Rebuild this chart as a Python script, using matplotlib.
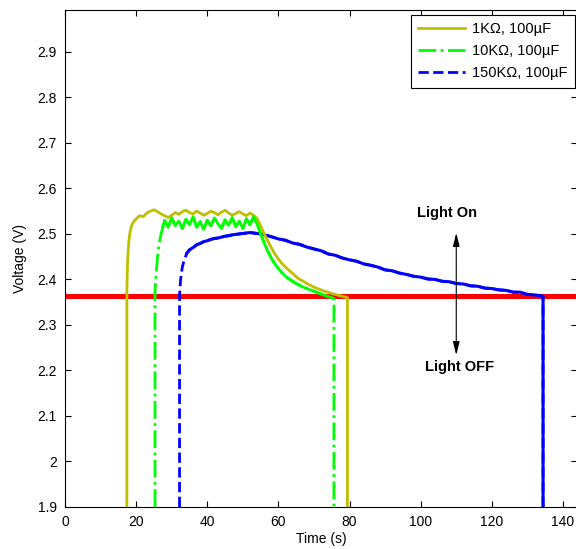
import matplotlib.pyplot as plt

plt.rcParams['font.family'] = ['Liberation Sans', 'DejaVu Sans']

# 1 kOhm, 100 uF
t_1k = [17.4, 17.4, 17.6, 17.9, 18.3, 18.8, 19.4,
        20, 21, 22, 23, 24, 25, 26, 27, 28, 29, 30, 31, 32, 33, 34, 35, 36, 37, 38, 39,
        40, 41, 42, 43, 44, 45, 46, 47, 48, 49, 50, 51, 52, 53, 54, 55, 56, 57, 58, 59,
        60, 61, 62, 63, 64, 65, 66, 67, 68, 69, 70, 71, 72, 73, 74, 75, 76, 77, 78, 79,
        79.4, 79.4]
v_1k = [1.90, 2.38, 2.44, 2.48, 2.505, 2.52, 2.528,
        2.533, 2.540, 2.538, 2.546, 2.550, 2.553, 2.549, 2.544, 2.540, 2.536,
        2.541, 2.547, 2.543, 2.549, 2.552, 2.547, 2.544, 2.550, 2.546, 2.541,
        2.545, 2.550, 2.547, 2.542, 2.548, 2.552, 2.546, 2.541, 2.545, 2.549,
        2.544, 2.540, 2.546, 2.541, 2.534, 2.518, 2.500, 2.485, 2.470, 2.456,
        2.445, 2.435, 2.427, 2.420, 2.413, 2.406, 2.400, 2.396, 2.391, 2.387,
        2.383, 2.380, 2.377, 2.374, 2.372, 2.369, 2.367, 2.365, 2.363, 2.361,
        2.360, 1.90]

# 10 kOhm, 100 uF
t_10k = [25.3, 25.3, 25.6, 26.0, 26.5, 27.0, 27.5,
         28, 29, 30, 31, 32, 33, 34, 35, 36, 37, 38, 39, 40, 41, 42, 43, 44, 45, 46, 47,
         48, 49, 50, 51, 52, 53, 54, 55, 56, 57, 58, 59, 60, 61, 62, 63, 64, 65, 66, 67,
         68, 69, 70, 71, 72, 73, 74, 75,
         75.6, 75.6]
v_10k = [1.90, 2.37, 2.41, 2.45, 2.48, 2.50, 2.515,
         2.530, 2.515, 2.535, 2.518, 2.528, 2.512, 2.532, 2.520, 2.538, 2.515,
         2.527, 2.510, 2.530, 2.518, 2.535, 2.522, 2.513, 2.531, 2.519, 2.536,
         2.516, 2.528, 2.512, 2.533, 2.520, 2.538, 2.522, 2.500, 2.480, 2.462,
         2.447, 2.434, 2.424, 2.415, 2.407, 2.401, 2.396, 2.391, 2.387, 2.383,
         2.380, 2.377, 2.374, 2.371, 2.368, 2.365, 2.362, 2.360,
         2.358, 1.90]

# 150 kOhm, 100 uF
t_150k = [32.2, 32.2, 32.5, 33.0, 33.6, 34.3,
          35, 36, 37, 38, 39, 40, 41, 42, 43, 44, 45, 46, 47, 48, 49, 50, 51, 52, 53, 54, 55,
          56, 58, 60, 62, 64, 66, 68, 70, 72, 74, 76, 78, 80, 82, 84, 86, 88, 90, 92, 94,
          96, 98, 100, 102, 104, 106, 108, 110, 112, 114, 116, 118, 120, 122, 124, 126,
          128, 130, 132, 134,
          134.4, 134.4]
v_150k = [1.90, 2.365, 2.40, 2.428, 2.445, 2.458,
          2.465, 2.470, 2.476, 2.479, 2.483, 2.485, 2.488, 2.490, 2.491, 2.493, 2.495,
          2.496, 2.498, 2.499, 2.500, 2.501, 2.502, 2.503, 2.502, 2.501, 2.500,
          2.498, 2.494, 2.489, 2.486, 2.480, 2.477, 2.471, 2.467, 2.463, 2.456,
          2.453, 2.447, 2.443, 2.440, 2.434, 2.431, 2.427, 2.421, 2.419, 2.414,
          2.411, 2.407, 2.405, 2.401, 2.400, 2.396, 2.395, 2.391, 2.390, 2.386,
          2.385, 2.381, 2.380, 2.377, 2.376, 2.372, 2.372, 2.367, 2.366, 2.364,
          2.362, 1.90]

threshold = 2.363
x_ticks = [0, 20, 40, 60, 80, 100, 120, 140]
y_ticks = [1.9, 2.0, 2.1, 2.2, 2.3, 2.4, 2.5, 2.6, 2.7, 2.8, 2.9]
y_labels = ['1.9', '2', '2.1', '2.2', '2.3', '2.4', '2.5', '2.6', '2.7', '2.8', '2.9']

c_1k = '#BFBF00'
c_10k = '#00FF00'
c_150k = '#0000FF'

fig = plt.figure(figsize=(5.76, 5.49), dpi=100)
ax = fig.add_axes([65 / 576, 42 / 549, 512.2 / 576, 497 / 549])

ax.axhline(threshold, color='red', lw=3.6, zorder=1)

ax.plot(t_1k, v_1k, color=c_1k, lw=2, label='1K\u03a9, 100\u00b5F', zorder=3)

ax.plot(t_10k, v_10k, color=c_10k, lw=2, ls='-.', label='10K\u03a9, 100\u00b5F', zorder=4)
# dense noisy part looks solid in the measurement
ax.plot(t_10k[6:-2], v_10k[6:-2], color=c_10k, lw=2, zorder=4)

ax.plot(t_150k, v_150k, color=c_150k, lw=2, ls='--', label='150K\u03a9, 100\u00b5F', zorder=2)
ax.plot(t_150k[5:], v_150k[5:], color=c_150k, lw=2.2, zorder=2)

# Light On / Light OFF arrows
ax.annotate('', xy=(110, 2.502), xytext=(110, threshold),
            arrowprops=dict(arrowstyle='-|>,head_width=0.2,head_length=0.8',
                            color='black', lw=0.8, shrinkA=0, shrinkB=0))
ax.annotate('', xy=(110, 2.234), xytext=(110, threshold),
            arrowprops=dict(arrowstyle='-|>,head_width=0.2,head_length=0.8',
                            color='black', lw=0.8, shrinkA=0, shrinkB=0))
ax.text(107.5, 2.546, 'Light On', ha='center', va='center', fontsize=10.5, fontweight='bold')
ax.text(110.8, 2.208, 'Light OFF', ha='center', va='center', fontsize=10.5, fontweight='bold')

ax.set_xlim(0, 144)
ax.set_ylim(1.9, 2.992)
ax.set_xticks(x_ticks)
ax.set_yticks(y_ticks)
ax.set_yticklabels(y_labels)
ax.tick_params(direction='in', top=True, right=True, length=4, labelsize=10)
ax.tick_params(axis='x', pad=6)
ax.tick_params(axis='y', pad=6)
ax.set_xlabel('Time (s)', fontsize=10, labelpad=2)
ax.set_ylabel('Voltage (V)', fontsize=10, labelpad=7)

leg = ax.legend(loc='upper right', bbox_to_anchor=(0.9957, 0.99), borderaxespad=0,
                fontsize=10.5, fancybox=False, edgecolor='black', framealpha=1,
                handlelength=3.2, handletextpad=0.5, borderpad=0.5, labelspacing=0.55)
leg.get_frame().set_linewidth(0.8)

fig.savefig('out.png', dpi=100)
